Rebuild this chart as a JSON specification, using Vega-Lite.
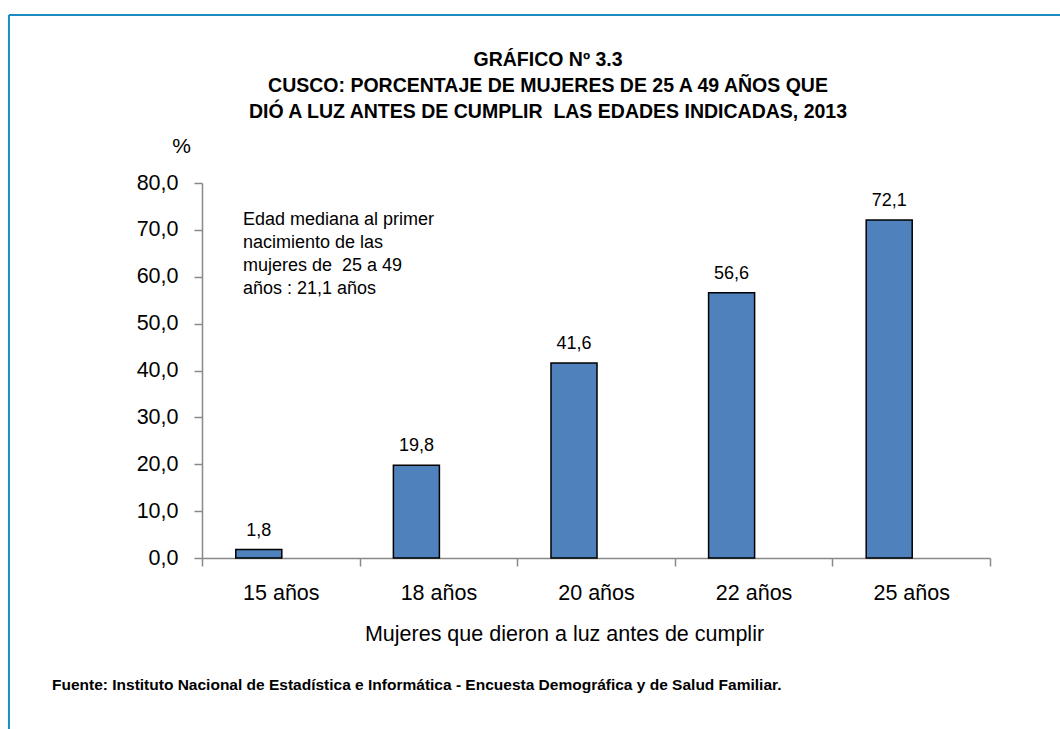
{
  "$schema": "https://vega.github.io/schema/vega-lite/v6.json",
  "width": 788,
  "height": 375,
  "autosize": {"type": "none"},
  "padding": {"left": 202, "top": 183, "right": 70, "bottom": 171},
  "background": "white",
  "config": {
    "view": {"stroke": null},
    "font": "Liberation Sans"
  },
  "title": {
    "text": ["GRÁFICO Nº 3.3", "CUSCO: PORCENTAJE DE MUJERES DE 25 A 49 AÑOS QUE", "DIÓ A LUZ ANTES DE CUMPLIR \u00a0LAS EDADES INDICADAS, 2013"],
    "font": "Liberation Sans",
    "fontSize": 19.5,
    "fontWeight": "bold",
    "color": "#000000",
    "lineHeight": 26,
    "anchor": "middle",
    "frame": "group",
    "dx": -48,
    "dy": 120,
    "offset": 12
  },
  "data": {"values": [{}]},
  "datasets": {
    "bars": [
      {"edad": "15 años", "porcentaje": 1.8, "etiqueta": "1,8"},
      {"edad": "18 años", "porcentaje": 19.8, "etiqueta": "19,8"},
      {"edad": "20 años", "porcentaje": 41.6, "etiqueta": "41,6"},
      {"edad": "22 años", "porcentaje": 56.6, "etiqueta": "56,6"},
      {"edad": "25 años", "porcentaje": 72.1, "etiqueta": "72,1"}
    ]
  },
  "layer": [
    {
      "layer": [
        {
          "data": {"name": "bars"},
          "mark": {"type": "bar", "width": {"band": 0.292}, "xOffset": -22, "fill": "#4F81BD", "stroke": "#000000", "strokeWidth": 1.5},
          "encoding": {
            "x": {
              "field": "edad", "type": "nominal",
              "scale": {"domain": ["15 años", "18 años", "20 años", "22 años", "25 años"], "paddingInner": 0, "paddingOuter": 0},
              "axis": {
                "title": "Mujeres que dieron a luz antes de cumplir",
                "titleFont": "Liberation Sans",
                "titleFontSize": 21.5,
                "titleFontWeight": "normal",
                "titleColor": "#000000",
                "titlePadding": 20,
                "titleX": 362,
                "labelFont": "Liberation Sans",
                "labelFontSize": 21.5,
                "labelColor": "#000000",
                "labelAngle": 0,
                "labelPadding": 16,
                "tickBand": "extent",
                "tickSize": 8,
                "tickColor": "#898989",
                "domainColor": "#898989",
                "domainWidth": 1.5,
                "tickWidth": 1.5
              }
            },
            "y": {
              "field": "porcentaje", "type": "quantitative",
              "scale": {"domain": [0, 80], "nice": false},
              "axis": {
                "values": [0, 10, 20, 30, 40, 50, 60, 70, 80],
                "labelExpr": "replace(format(datum.value, '.1f'), '.', ',')",
                "labelFont": "Liberation Sans",
                "labelFontSize": 21.5,
                "labelColor": "#000000",
                "labelPadding": 16,
                "tickSize": 8,
                "tickColor": "#898989",
                "domainColor": "#898989",
                "domainWidth": 1.5,
                "tickWidth": 1.5,
                "grid": false,
                "title": "%",
                "titleAngle": 0,
                "titleAlign": "center",
                "titleBaseline": "alphabetic",
                "titleX": -21,
                "titleY": -31,
                "titleFont": "Liberation Sans",
                "titleFontSize": 21,
                "titleFontWeight": "normal",
                "titleColor": "#000000"
              }
            }
          }
        },
        {
          "data": {"name": "bars"},
          "mark": {"type": "text", "font": "Liberation Sans", "fontSize": 18, "color": "#000000", "baseline": "alphabetic", "align": "center", "dy": -14, "xOffset": -22},
          "encoding": {
            "x": {"field": "edad", "type": "nominal"},
            "y": {"field": "porcentaje", "type": "quantitative"},
            "text": {"field": "etiqueta"}
          }
        },
        {
          "mark": {"type": "text", "font": "Liberation Sans", "fontSize": 18, "color": "#000000", "align": "left", "baseline": "alphabetic", "lineHeight": 23},
          "encoding": {
            "x": {"datum": "15 años", "bandPosition": 0.26},
            "y": {"datum": 71},
            "text": {"value": ["Edad mediana al primer", "nacimiento de las", "mujeres de \u00a025 a 49", "años : 21,1 años"]}
          }
        }
      ]
    },
    {
      "layer": [
        {
          "mark": {"type": "rule", "stroke": "#1B8CC3", "strokeWidth": 2},
          "encoding": {
            "x": {"datum": -24.5, "type": "quantitative", "scale": {"domain": [0, 100]}, "axis": null},
            "x2": {"datum": 110},
            "y": {"datum": 115.84, "type": "quantitative"}
          }
        },
        {
          "mark": {"type": "rule", "stroke": "#1B8CC3", "strokeWidth": 2},
          "encoding": {
            "x": {"datum": -24.5, "type": "quantitative", "scale": {"domain": [0, 100]}, "axis": null},
            "y": {"datum": 115.84, "type": "quantitative"},
            "y2": {"datum": -37}
          }
        },
        {
          "mark": {"type": "text", "font": "Liberation Sans", "fontSize": 15.5, "fontWeight": "bold", "color": "#000000", "align": "left", "baseline": "alphabetic"},
          "encoding": {
            "x": {"datum": -19.04, "type": "quantitative", "scale": {"domain": [0, 100]}, "axis": null},
            "y": {"datum": -28.16, "type": "quantitative"},
            "text": {"value": "Fuente: Instituto Nacional de Estadística e Informática - Encuesta Demográfica y de Salud Familiar."}
          }
        }
      ]
    }
  ],
  "resolve": {"scale": {"x": "independent"}}
}
